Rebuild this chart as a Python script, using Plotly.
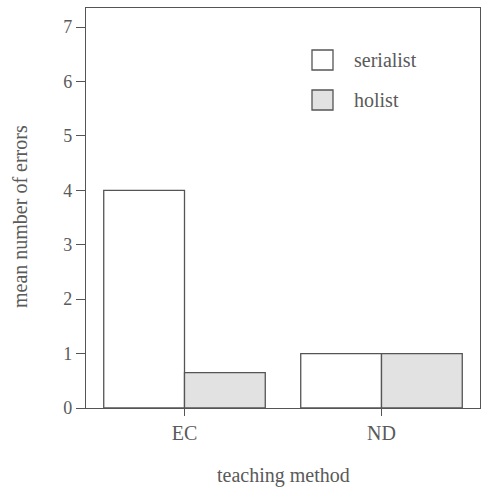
import plotly.graph_objects as go

categories = ["EC", "ND"]
serialist = [4.0, 1.0]
holist = [0.65, 1.0]
y_ticks = [0, 1, 2, 3, 4, 5, 6, 7]

line_col = "#555555"
text_col = "#5a5a5a"
font_family = "Liberation Serif, Times New Roman, serif"

L, R, T, B = 86, 480, 8, 408  # plot area in pixels
W, H = 481, 488

fig = go.Figure()
fig.add_trace(go.Bar(x=categories, y=serialist, name="serialist",
                     marker=dict(color="white", line=dict(color=line_col, width=1.3))))
fig.add_trace(go.Bar(x=categories, y=holist, name="holist",
                     marker=dict(color="#e2e2e2", line=dict(color=line_col, width=1.3))))

fig.update_layout(
    width=W, height=H,
    margin=dict(l=L, r=W - R, t=T, b=H - B, autoexpand=False),
    paper_bgcolor="white", plot_bgcolor="white",
    barmode="group", bargap=0.18, bargroupgap=0,
    showlegend=False,
    font=dict(family=font_family, color=text_col, size=18),
)
fig.update_xaxes(
    range=[-0.5, 1.5], showgrid=False, zeroline=False,
    showline=True, linecolor=line_col, linewidth=1.3, mirror=True,
    ticks="outside", ticklen=7, tickcolor=line_col, tickwidth=1.3,
    tickfont=dict(size=20, family=font_family, color=text_col),
)
fig.update_yaxes(
    range=[0, 7.35], tickvals=y_ticks, showgrid=False, zeroline=False,
    showline=True, linecolor=line_col, linewidth=1.3, mirror=True,
    ticks="outside", ticklen=9, tickcolor=line_col, tickwidth=1.3,
    tickfont=dict(size=18, family=font_family, color=text_col),
)

def px_x(x):
    return (x - L) / (R - L)

def px_y(y):
    return (B - y) / (B - T)

# axis titles
fig.add_annotation(xref="paper", yref="paper", x=px_x(20), y=px_y(217),
                   text="mean number of errors", textangle=-90, showarrow=False,
                   xanchor="center", yanchor="middle",
                   font=dict(size=20, family=font_family, color=text_col))
fig.add_annotation(xref="paper", yref="paper", x=px_x(283), y=px_y(475),
                   text="teaching method", showarrow=False,
                   xanchor="center", yanchor="middle",
                   font=dict(size=20, family=font_family, color=text_col))

# custom legend
legend_items = [("serialist", "white"), ("holist", "#e2e2e2")]
box_x0, box_x1 = 312, 333
centers_px = [60, 100]
for (label, col), cy in zip(legend_items, centers_px):
    fig.add_shape(type="rect", xref="paper", yref="paper",
                  x0=px_x(box_x0), x1=px_x(box_x1),
                  y0=px_y(cy + 10), y1=px_y(cy - 10),
                  fillcolor=col, line=dict(color=line_col, width=1.3))
    fig.add_annotation(xref="paper", yref="paper",
                       x=px_x(352), y=px_y(cy),
                       text=label, showarrow=False, xanchor="left", yanchor="middle",
                       font=dict(size=20, family=font_family, color=text_col))

fig.write_html("out.html", config={"displayModeBar": False},
               post_script="document.body.style.margin='0';document.body.style.overflow='hidden';")
